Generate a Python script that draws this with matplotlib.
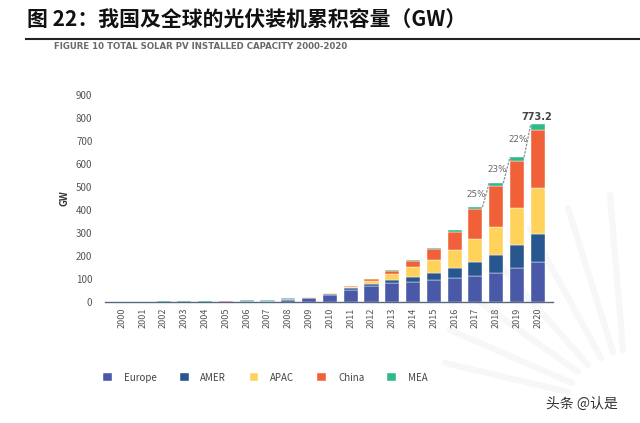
import matplotlib
matplotlib.use("Agg")
import matplotlib.pyplot as plt
import numpy as np

plt.rcParams['font.family'] = ['Noto Sans CJK SC', 'DejaVu Sans']

years = [str(y) for y in range(2000, 2021)]
europe = [0.0, 0.2, 0.3, 0.5, 0.8, 1.2, 2.0, 4.5, 10.0, 16.0, 30.0, 53.0, 70.0, 82.0, 88.0, 96.0, 104.0, 113.0, 126.0, 148.0, 175.0]
amer   = [0.0, 0.1, 0.1, 0.1, 0.2, 0.3, 0.4, 0.7, 1.0, 1.5, 3.0, 6.0, 10.0, 14.0, 22.0, 30.0, 44.0, 61.0, 78.0, 100.0, 122.0]
apac   = [0.0, 0.2, 0.3, 0.4, 0.5, 0.7, 0.8, 1.0, 2.0, 3.0, 5.0, 8.0, 13.0, 26.0, 43.0, 57.0, 78.0, 100.0, 122.0, 161.0, 200.0]
china  = [1.2, 0.0, 0.1, 0.1, 0.1, 0.1, 0.1, 0.1, 0.2, 0.5, 1.0, 3.0, 7.0, 15.0, 26.0, 46.0, 78.0, 130.0, 178.0, 204.0, 251.2]
mea    = [0.0, 1.1, 1.5, 1.8, 2.3, 3.1, 3.6, 3.1, 2.8, 2.5, 2.0, 1.0, 1.5, 3.0, 5.0, 5.0, 9.0, 9.0, 13.0, 17.0, 25.0]
series_names = ["Europe", "AMER", "APAC", "China", "MEA"]
colors = ["#4a59a7", "#28568e", "#ffd25b", "#f0613a", "#2fba87"]
growth_labels = ["25%", "23%", "22%"]
total_label = "773.2"

fig = plt.figure(figsize=(6.4, 4.23), dpi=100)

# faint decorative sunburst rays (pixel coordinates)
bg = fig.add_axes([0, 0, 1, 1], zorder=-5)
bg.set_xlim(0, 640); bg.set_ylim(423, 0); bg.axis('off')
rays = [((610, 195), (623, 350)), ((568, 208), (613, 352)), ((530, 228), (601, 358)),
        ((497, 262), (588, 365)), ((470, 295), (578, 372)), ((450, 330), (572, 383)),
        ((445, 363), (568, 392))]
for (x0, y0), (x1, y1) in rays:
    bg.plot([x0, x1], [y0, y1], color="#f6f7f8", lw=4.5, solid_capstyle='round')

# title
fig.text(0.042, 0.953, "图 22：我国及全球的光伏装机累积容量（GW）", fontsize=15, fontweight='bold',
         color="#111111", va='center', ha='left')
fig.add_artist(plt.Line2D([0.04, 1.0], [0.908, 0.908], color="#222222", lw=1.5))
fig.text(0.085, 0.889, "FIGURE 10 TOTAL SOLAR PV INSTALLED CAPACITY 2000-2020", fontsize=6.2,
         color="#6a6a6a", fontweight='bold', va='center', ha='left', family='DejaVu Sans')

ax = fig.add_axes([0.164, 0.286, 0.700, 0.489])
ax.patch.set_alpha(0)
x = np.arange(len(years))
data = [europe, amer, apac, china, mea]
bottom = np.zeros(len(years))
for vals, c, name in zip(data, colors, series_names):
    ax.bar(x, vals, bottom=bottom, width=0.68, color=c, label=name, edgecolor='white', linewidth=0.3)
    bottom += np.array(vals)
totals = bottom

ax.set_xlim(-0.82, 20.73)
ax.set_ylim(0, 900)
ax.set_yticks(range(0, 901, 100))
ax.set_xticks(x)
ax.set_xticklabels(years, rotation=90, fontsize=6.5, color="#555555")
ax.tick_params(axis='y', length=0, pad=9, labelsize=7, labelcolor="#555555")
ax.tick_params(axis='x', length=0, pad=4)
for s in ['top', 'right', 'left']:
    ax.spines[s].set_visible(False)
ax.spines['bottom'].set_color("#5b6680")
ax.spines['bottom'].set_linewidth(1.0)
ax.set_ylabel("GW", fontsize=7, fontweight='bold', color="#333333", labelpad=5)

# growth connectors
hw = 0.34
for i, lab in zip([17, 18, 19], growth_labels):
    ax.plot([i + hw, i + 1 - hw], [totals[i], totals[i + 1]], color="#8a8f99", lw=0.9, ls=(0, (2, 1)))
    ax.text(i + 0.05, (totals[i] + totals[i + 1]) / 2 + 4, lab, fontsize=6.3, color="#666666",
            ha='center', va='center', family='DejaVu Sans')
ax.text(19.95, totals[20] + 12, total_label, fontsize=7, fontweight='bold', color="#444444",
        ha='center', va='bottom', family='DejaVu Sans')

# legend
leg = fig.legend(loc='center left', bbox_to_anchor=(0.148, 0.107), ncol=5, frameon=False,
                 fontsize=7, handlelength=0.9, handleheight=0.9, columnspacing=2.4, handletextpad=1.2,
                 labelcolor="#444444")

fig.text(0.965, 0.045, "头条 @认是", fontsize=10, color="#333333", ha='right', va='center')

fig.savefig("out.png", dpi=100)
